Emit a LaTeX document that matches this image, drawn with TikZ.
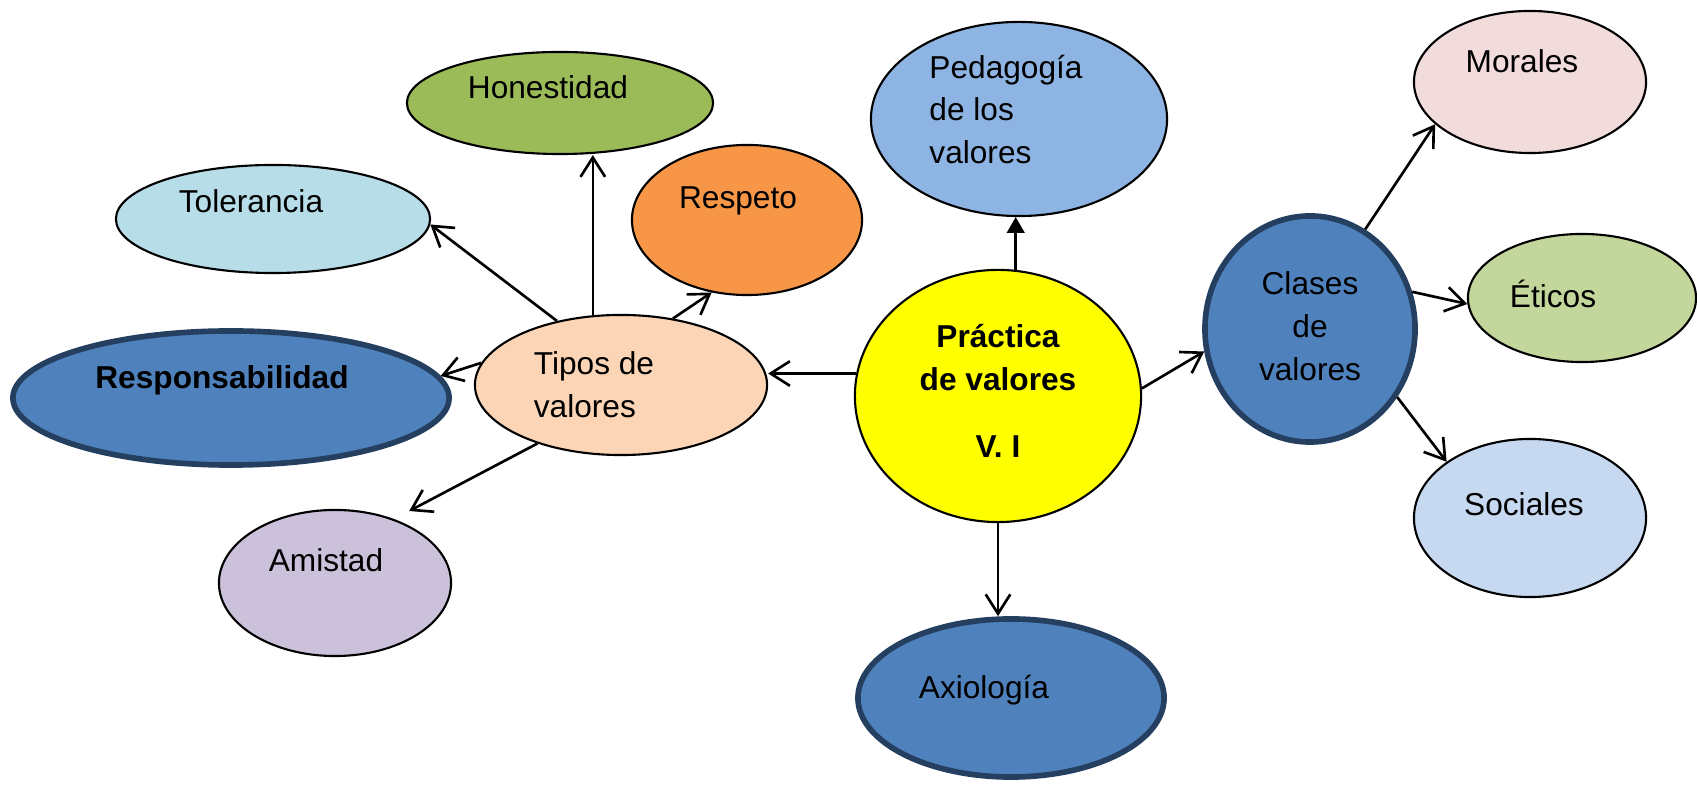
\documentclass[tikz,border=0pt]{standalone}
\usepackage{fontspec}
\setmainfont{Liberation Sans}
\usetikzlibrary{shapes.geometric,arrows.meta}
\definecolor{honcolor}{HTML}{9BBB59}
\definecolor{tolcolor}{HTML}{B7DDE8}
\definecolor{rescolor}{HTML}{F79646}
\definecolor{pedcolor}{HTML}{8EB4E3}
\definecolor{morcolor}{HTML}{F2DCDB}
\definecolor{eticolor}{HTML}{C3D69B}
\definecolor{soccolor}{HTML}{C6D9F1}
\definecolor{tipcolor}{HTML}{FBD5B5}
\definecolor{amicolor}{HTML}{CCC1DA}
\definecolor{amarillo}{HTML}{FFFF00}
\definecolor{azul}{HTML}{4F81BD}
\definecolor{azuloscuro}{HTML}{243F60}
\newcommand\letra{\fontsize{9}{12.2}\selectfont}
\begin{document}
\begin{tikzpicture}[x=0.01cm,y=-0.01cm,font=\letra,
    valor/.style={ellipse,draw,line width=0.6pt,inner sep=0pt},
    grueso/.style={draw=azuloscuro,line width=1.6pt},
    flecha/.style={-{Straight Barb[length=5.5pt,width=7pt]},line width=0.75pt}]
  \useasboundingbox (0,0) rectangle (1697,789);
  % valores
  \node[valor,fill=honcolor,minimum width=3.06cm,minimum height=1.02cm,
    label={[xshift=-0.12cm,yshift=0.16cm]center:Honestidad}] (hon) at (560,103) {};
  \node[valor,fill=tolcolor,minimum width=3.14cm,minimum height=1.08cm,
    label={[xshift=-0.22cm,yshift=0.18cm]center:Tolerancia}] (tol) at (273,219) {};
  \node[valor,fill=rescolor,minimum width=2.30cm,minimum height=1.50cm,
    label={[xshift=-0.09cm,yshift=0.19cm]center:Respeto}] (respeto) at (747,220) {};
  \node[valor,fill=tipcolor,minimum width=2.92cm,minimum height=1.40cm,
    label={[xshift=-0.27cm,align=left]center:{Tipos de\\valores}}] (tip) at (621,385) {};
  \node[valor,grueso,fill=azul,minimum width=4.36cm,minimum height=1.34cm,
    label={[xshift=-0.09cm,yshift=0.18cm,font=\letra\bfseries]center:Responsabilidad}] (respon) at (231,398) {};
  \node[valor,fill=amicolor,minimum width=2.32cm,minimum height=1.46cm,
    label={[xshift=-0.09cm,yshift=0.23cm]center:Amistad}] (ami) at (335,583) {};
  % centro
  \node[valor,fill=amarillo,minimum width=2.86cm,minimum height=2.52cm,
    label={[yshift=0.05cm,align=center,font=\letra\bfseries]center:{Práctica\\de valores\\[6.8pt]V. I}}] (prac) at (998,396) {};
  \node[valor,fill=pedcolor,minimum width=2.96cm,minimum height=1.94cm,
    label={[xshift=-0.13cm,yshift=0.095cm,align=left]center:{Pedagogía\\de los\\valores}}] (ped) at (1019,119) {};
  \node[valor,grueso,fill=azul,minimum width=3.06cm,minimum height=1.58cm,
    label={[xshift=-0.27cm,yshift=0.08cm]center:Axiología}] (axi) at (1011,698) {};
  % clases
  \node[valor,grueso,fill=azul,minimum width=2.10cm,minimum height=2.26cm,
    label={[yshift=0.03cm,align=center]center:{Clases\\de\\valores}}] (cla) at (1310,329) {};
  \node[valor,fill=morcolor,minimum width=2.32cm,minimum height=1.42cm,
    label={[xshift=-0.08cm,yshift=0.21cm]center:Morales}] (mor) at (1530,82) {};
  \node[valor,fill=eticolor,minimum width=2.28cm,minimum height=1.28cm,
    label={[xshift=-0.29cm,yshift=0.04cm]center:Éticos}] (eti) at (1582,298) {};
  \node[valor,fill=soccolor,minimum width=2.32cm,minimum height=1.58cm,
    label={[xshift=-0.06cm,yshift=0.14cm]center:Sociales}] (soc) at (1530,518) {};
  % flechas
  \draw[flecha] (tip.135) -- (tol.-2);
  \draw[flecha] (tip.112) -- (tip.112 |- hon.south);
  \draw[flecha] (tip.52) -- (respeto.-116);
  \draw[flecha] (tip.171) -- (respon.6);
  \draw[flecha] (tip.-145) -- ([shift={(0.1cm,0.1cm)}]ami.44);
  \draw[flecha] (prac.171) -- (prac.171 -| tip.east);
  \draw[-{Triangle[length=4.5pt,width=5pt]},line width=0.75pt] (prac.82) -- (prac.82 |- ped.south);
  \draw[flecha] (prac.south) -- (prac.south |- axi.north);
  \draw[flecha] (prac.3) -- (cla.192);
  \draw[flecha] (cla.61) -- (mor.204);
  \draw[flecha] (cla.20) -- (eti.183);
  \draw[flecha] (cla.-38) -- (soc.146);
\end{tikzpicture}
\end{document}
